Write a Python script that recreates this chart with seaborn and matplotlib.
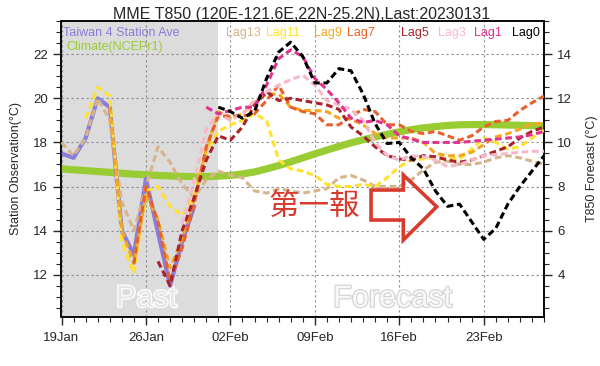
import pandas as pd
import matplotlib
matplotlib.use("Agg")
import matplotlib.pyplot as plt
import matplotlib.dates as mdates
import matplotlib.patheffects as pe
from matplotlib.patches import Polygon
from matplotlib.ticker import MultipleLocator
import seaborn as sns

# ---------------- data ----------------
start_date = "2023-01-19"
n_days = 40
past_end_day = 13
title = "MME T850 (120E-121.6E,22N-25.2N),Last:20230131"

# Taiwan 4 station average (left axis, deg C), daily from 19Jan
obs_values = [17.5, 17.3, 18.2, 20.0, 19.6, 14.0, 12.9, 16.35, 13.9, 11.5, 13.5, 15.1]

# Climate (NCEPr1), left axis, daily from 19Jan to 28Feb
climate_values = [16.8, 16.76, 16.72, 16.68, 16.64, 16.6, 16.56, 16.53, 16.5, 16.48,
                  16.46, 16.45, 16.45, 16.47, 16.5, 16.57, 16.66, 16.8, 16.95, 17.12,
                  17.3, 17.48, 17.65, 17.82, 17.98, 18.12, 18.25, 18.37, 18.48, 18.58,
                  18.66, 18.72, 18.77, 18.8, 18.81, 18.81, 18.8, 18.79, 18.78, 18.76, 18.75]

# Lagged T850 forecasts (right axis, deg C), daily from their start day to 28Feb
lag_names = ["Lag13", "Lag11", "Lag9", "Lag7", "Lag5", "Lag3", "Lag1", "Lag0"]
lag_start_days = [0, 2, 4, 6, 8, 10, 12, 13]

lag13 = [10.0, 9.4, 10.2, 12.0, 11.0, 7.3, 6.0, 8.0, 9.8, 9.1, 8.1, 7.5, 8.3, 8.7, 8.5,
         8.4, 7.8, 7.7, 7.9, 7.8, 7.7, 7.8, 7.9, 8.4, 8.5, 8.3, 8.0, 8.0, 8.0, 8.3, 8.75,
         9.1, 9.15, 9.0, 9.0, 9.1, 9.3, 9.4, 9.3, 9.15, 9.0]
lag11 = [11.1, 12.5, 12.1, 5.5, 4.05, 7.8, 8.0, 7.1, 6.7, 7.6, 9.6, 10.5, 10.8, 11.0,
         11.3, 11.0, 9.2, 8.8, 8.7, 8.5, 8.1, 8.0, 8.0, 8.1, 8.0, 8.4, 8.9, 9.2, 9.25,
         9.3, 9.3, 9.25, 9.7, 10.2, 10.0, 9.7, 9.8, 10.2, 10.55]
lag9 = [11.6, 6.0, 4.5, 7.6, 6.5, 4.3, 5.6, 7.4, 9.7, 11.4, 11.1, 11.3, 11.8, 12.2,
        12.2, 11.6, 11.45, 11.45, 11.4, 11.1, 11.05, 10.8, 10.4, 10.2, 10.2, 10.2, 10.0,
        9.5, 9.4, 9.4, 9.55, 9.9, 10.25, 10.4, 10.6, 10.85, 10.85]
lag7 = [4.5, 8.0, 6.4, 3.7, 5.2, 7.2, 9.8, 11.2, 11.2, 11.2, 11.3, 11.9, 12.6, 11.6,
        11.4, 11.3, 10.8, 10.8, 11.2, 11.5, 11.4, 10.8, 10.8, 10.5, 10.4, 10.5, 10.3,
        10.1, 10.3, 10.7, 10.95, 11.0, 11.45, 11.8, 12.1]
lag5 = [4.6, 3.5, 6.0, 7.5, 9.2, 10.3, 10.1, 10.7, 11.7, 12.3, 11.9, 12.0, 11.9, 11.8,
        11.7, 11.5, 10.7, 10.3, 9.8, 9.4, 9.25, 9.2, 9.4, 9.35, 9.2, 9.1, 9.2, 9.4, 9.6,
        9.8, 10.2, 10.5, 10.7]
lag3 = [6.3, 8.3, 10.6, 11.3, 11.0, 11.3, 11.9, 12.3, 12.6, 12.85, 13.05, 12.6, 11.9,
        11.7, 11.5, 11.0, 10.0, 9.4, 9.2, 9.4, 9.35, 9.2, 8.9, 9.0, 9.2, 9.4, 9.45, 9.5,
        9.55, 9.6, 9.6]
lag1 = [11.6, 11.3, 11.45, 11.6, 11.6, 12.6, 13.8, 14.2, 13.9, 12.9, 12.4, 11.8, 11.1,
        10.9, 11.0, 10.8, 10.3, 10.15, 10.0, 10.0, 10.0, 10.0, 10.05, 10.1, 10.15, 10.2,
        10.25, 10.35, 10.5]
lag0 = [11.6, 11.4, 11.1, 11.4, 12.9, 14.1, 14.55, 13.9, 12.7, 12.7, 13.35, 13.25, 12.2,
        10.85, 9.95, 10.0, 9.3, 8.8, 7.8, 7.1, 7.2, 6.4, 5.6, 6.1, 7.2, 8.0, 8.7, 9.4]
lag_values = [lag13, lag11, lag9, lag7, lag5, lag3, lag1, lag0]

# ---------------- styles ----------------
obs_color = "#8A7CDB"
clim_color = "#99CC33"
lag_colors = ["#D8B48A", "#FFE12E", "#F5A623", "#E8602A", "#A8242A", "#F7B9C8", "#E0338F", "#000000"]
lag_label_x = [0.340, 0.424, 0.524, 0.592, 0.703, 0.781, 0.854, 0.934]
annot_red = "#D83A2E"

sns.set_style("ticks")
plt.rcParams["font.family"] = ["Liberation Sans", "DejaVu Sans"]

t0 = pd.Timestamp(start_date)


def dates_from(start, n):
    return pd.date_range(t0 + pd.Timedelta(days=start), periods=n, freq="D")


fig = plt.figure(figsize=(6, 3.66), dpi=100)
ax = fig.add_axes([0.1025, 0.1352, 0.8042, 0.8068])

ax.axvspan(t0, t0 + pd.Timedelta(days=past_end_day), color="#DCDCDC", lw=0, zorder=0)

sns.lineplot(x=dates_from(0, len(climate_values)), y=climate_values, ax=ax,
             color=clim_color, lw=5.2, zorder=3)
sns.lineplot(x=dates_from(0, len(obs_values)), y=obs_values, ax=ax,
             color=obs_color, lw=3.0, zorder=4)

ax.set_xlim(t0, t0 + pd.Timedelta(days=n_days))
ax.set_ylim(10.1, 23.5)
ax.set_yticks([12, 14, 16, 18, 20, 22])
ax.yaxis.set_minor_locator(MultipleLocator(0.5))
ax.set_xticks(list(dates_from(0, 6 * 7)[::7]))
ax.xaxis.set_major_formatter(mdates.DateFormatter("%d%b"))
ax.xaxis.set_minor_locator(mdates.DayLocator())
ax.grid(True, which="major", linestyle=(0, (2, 2.5)), color="#8C8C8C", lw=0.8)
ax.tick_params(which="major", direction="out", length=6, width=1, labelsize=9.5, top=False, right=False)
ax.tick_params(which="minor", direction="out", length=3.5, width=0.8, top=False, right=False)
ax.tick_params(axis="x", which="major", pad=5)
ax.set_xlabel("")
ax.set_ylabel("Station Observation(°C)", fontsize=9, labelpad=8)

ax2 = ax.twinx()
for name, s, vals, col in zip(lag_names, lag_start_days, lag_values, lag_colors):
    sns.lineplot(x=dates_from(s, len(vals)), y=vals, ax=ax2, color=col, lw=2.2,
                 linestyle=(0, (2.2, 1.2)), zorder=5)
ax2.set_xlim(t0, t0 + pd.Timedelta(days=n_days))
ax2.set_ylim(2.1, 15.5)
ax2.set_yticks([4, 6, 8, 10, 12, 14])
ax2.yaxis.set_minor_locator(MultipleLocator(0.5))
ax2.tick_params(which="major", direction="out", length=6, width=1, labelsize=9.5)
ax2.tick_params(which="minor", direction="out", length=3.5, width=0.8)
ax2.set_ylabel("T850 Forecast (°C)", fontsize=9, labelpad=10)
for a in (ax, ax2):
    for sp in a.spines.values():
        sp.set_color("black")
        sp.set_linewidth(1.1)

fig.text(0.503, 0.96, title, ha="center", va="center", fontsize=11.5)

# legend-like texts
ax.text(0.004, 0.961, "Taiwan 4 Station Ave", transform=ax.transAxes, color=obs_color,
        fontsize=9, ha="left", va="center", zorder=10)
ax.text(0.011, 0.914, "Climate(NCEPr1)", transform=ax.transAxes, color=clim_color,
        fontsize=9, ha="left", va="center", zorder=10)
for name, col, xp in zip(lag_names, lag_colors, lag_label_x):
    ax2.text(xp, 0.961, name, transform=ax2.transAxes, color=col, fontsize=9,
             ha="left", va="center", zorder=10)

# Past / Forecast outlined labels
ax.text(0.176, 0.033, "Past", transform=ax.transAxes, fontsize=22, ha="center",
        va="baseline", color="#E6E6E6", zorder=1,
        path_effects=[pe.Stroke(linewidth=1.8, foreground="white"), pe.Normal()])
ax.text(0.686, 0.033, "Forecast", transform=ax.transAxes, fontsize=22, ha="center",
        va="baseline", color="#F8F8F8", zorder=1,
        path_effects=[pe.Stroke(linewidth=1.8, foreground="#D5D5D5"), pe.Normal()])

# annotation: 第一報 with hollow arrow
ax2.text(0.5233, 0.3725, "第一報", transform=ax2.transAxes, ha="center", va="center",
         fontsize=22, color=annot_red, family=["Noto Sans CJK SC", "DejaVu Sans"], zorder=20)
arrow_pts = [(0.6415, 0.4284), (0.7084, 0.4284), (0.7084, 0.4792), (0.7776, 0.3718),
             (0.7084, 0.2591), (0.7084, 0.3268), (0.6415, 0.3268)]
ax2.add_patch(Polygon(arrow_pts, closed=True, fill=False, edgecolor=annot_red, lw=2.6,
                      joinstyle="miter", transform=ax2.transAxes, zorder=20))

fig.savefig("out.png", dpi=100)
